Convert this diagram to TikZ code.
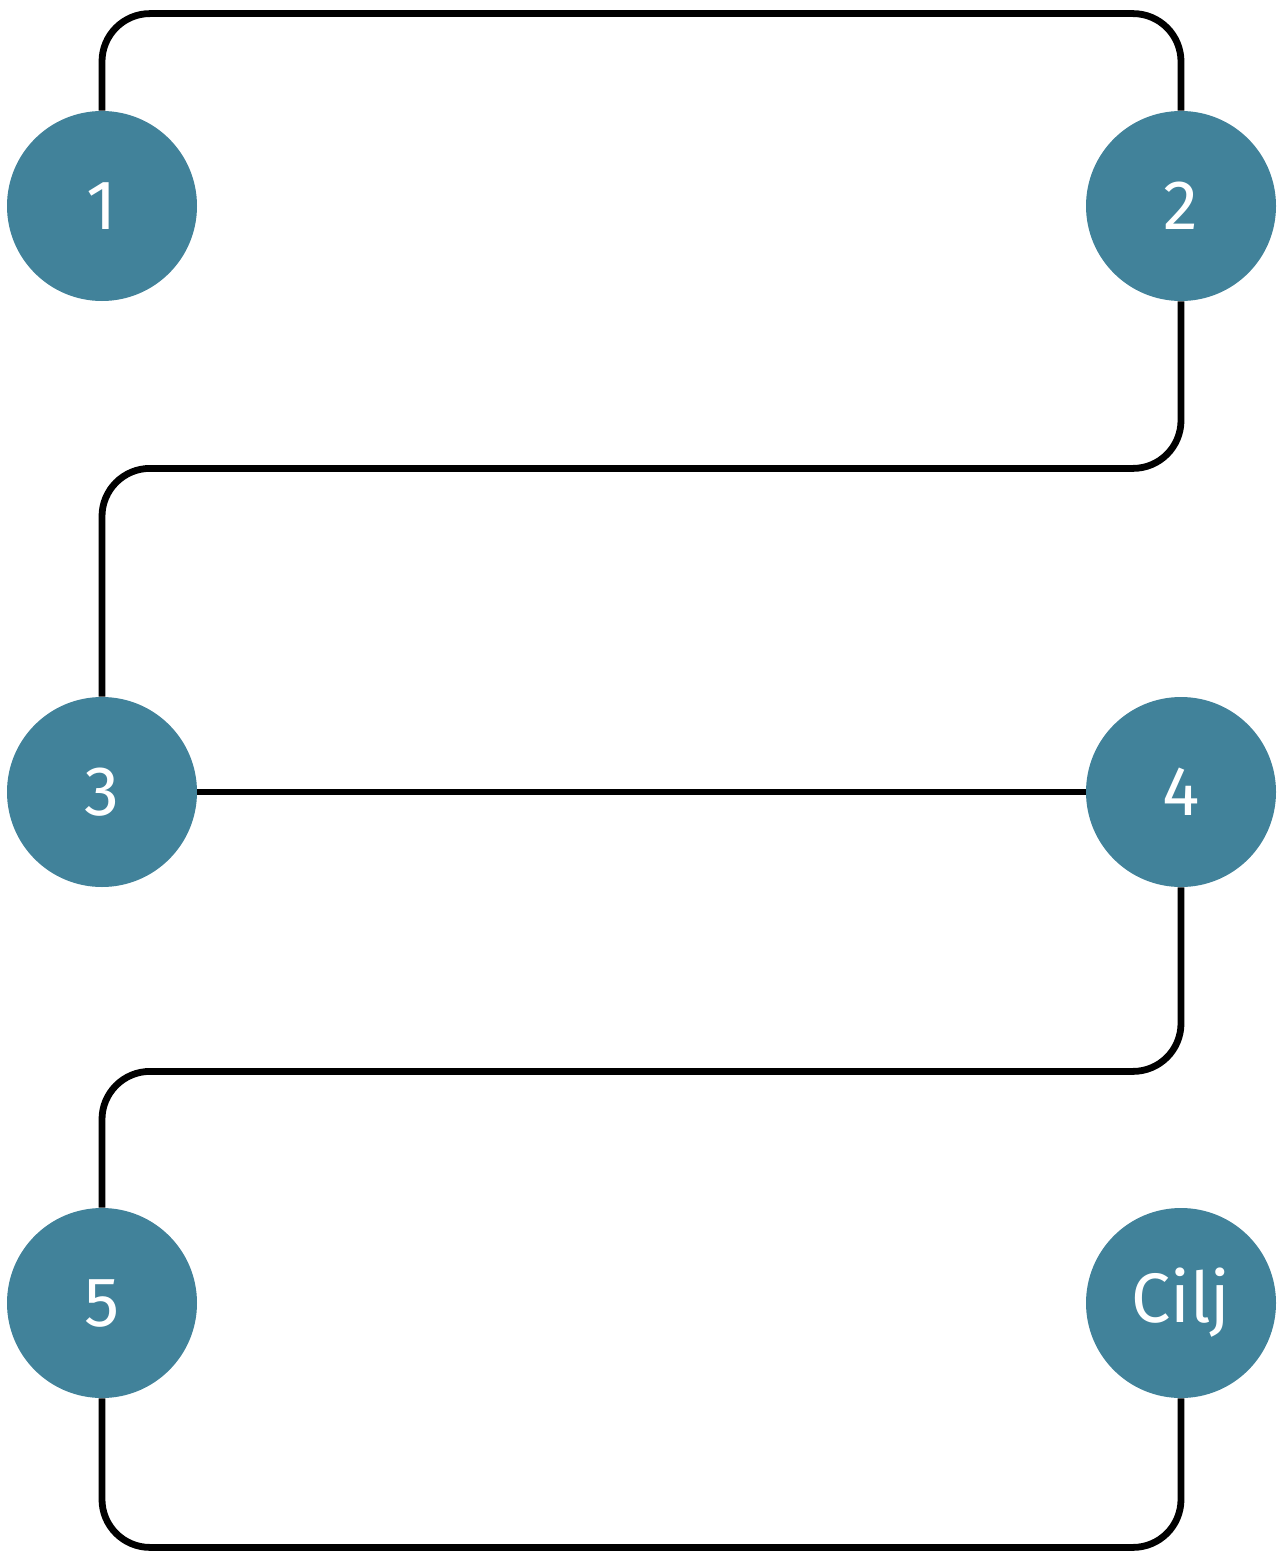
\documentclass[tikz,border=0pt]{standalone}
\usepackage{fontspec}
\setmainfont{Fira Sans}
\usetikzlibrary{positioning}
\definecolor{cstep}{HTML}{41829A}
\tikzset{
  stepnode/.style={circle, fill=cstep, draw=none, minimum size=95pt, inner sep=0pt, text=white, font=\fontsize{35}{40}\selectfont},
  link/.style={line width=3.4pt, draw=black, rounded corners=24pt},
}
\begin{document}
\begin{tikzpicture}[x=0.5pt,y=-0.5pt]
\useasboundingbox (0,0) rectangle (1282,1552);
\foreach \n/\x/\y/\t in {1/102/206/1, 2/1181/206/2, 3/102/792/3, 4/1181/792/4, 5/102/1303/5, 6/1181/1303/Cilj}{
  \node[stepnode] (s\n) at (\x,\y) {\t};
}
% connectors
\draw[link] (s1.north) -- ++(0,-97) -| (s2.north);
\draw[link] (s2.south) -- ++(0,167) -| (s3.north);
\draw[link] (s3.east) -- (s4.west);
\draw[link] (s4.south) -- ++(0,184) -| (s5.north);
\draw[link] (s5.south) -- ++(0,149) -| (s6.south);
\end{tikzpicture}
\end{document}
